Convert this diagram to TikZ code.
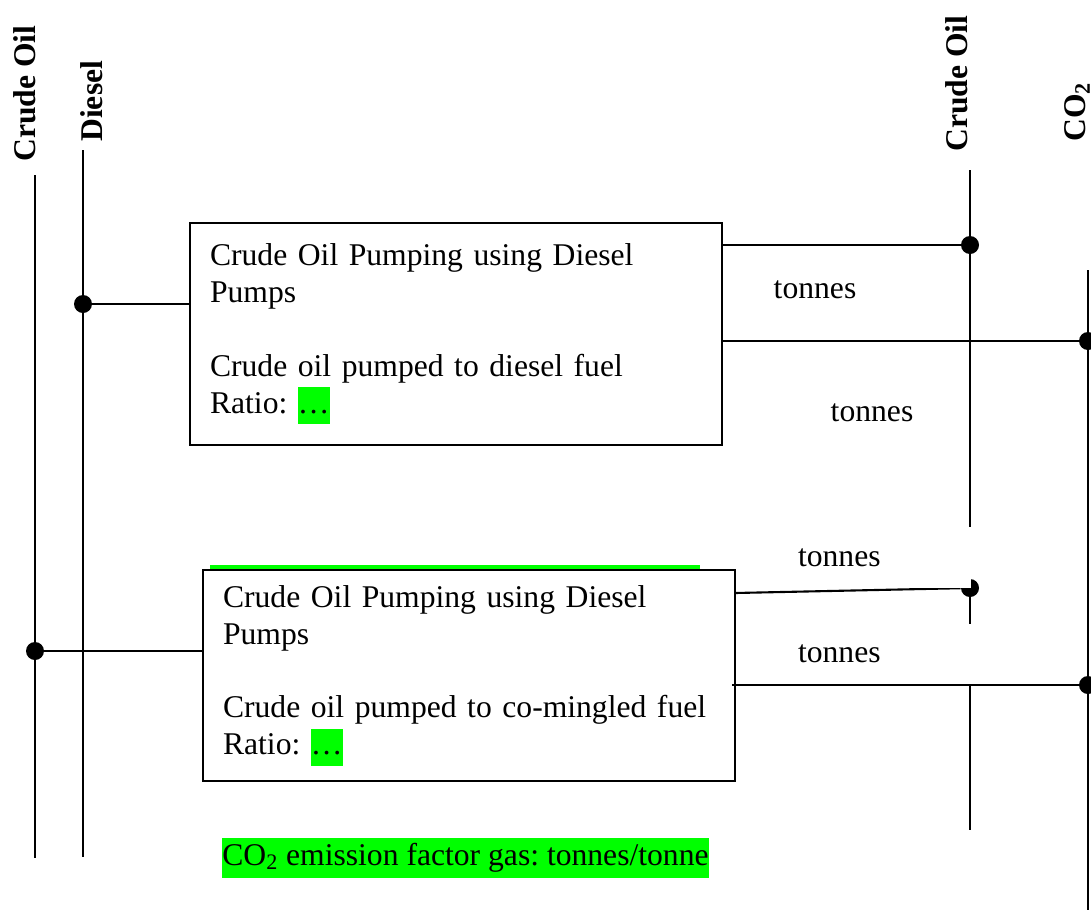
\documentclass[tikz,border=0pt]{standalone}
\usepackage{fontspec}
\setmainfont{Liberation Serif}
\usetikzlibrary{positioning}
\definecolor{hilite}{RGB}{0,255,0}
\frenchspacing

\tikzset{
  bus/.style={line width=1.2pt},
  joint/.style={circle, fill=black, inner sep=0pt, minimum size=0.36cm},
  buslabel/.style={rotate=90, anchor=west, inner sep=0pt, font=\fontsize{18}{21}\selectfont\bfseries},
  procbox/.style={draw, fill=white, line width=1pt, align=left, inner xsep=0.4cm, text width=9.84cm, minimum width=10.64cm, font=\fontsize{18}{21}\selectfont},
  qty/.style={fill=white, inner sep=0pt, font=\fontsize{18}{21}\selectfont},
}
\newcommand{\ratioval}{{\setlength{\fboxsep}{0pt}\colorbox{hilite}{\strut\ldots}}}

\begin{document}
\begin{tikzpicture}[x=0.02cm, y=-0.02cm]
    \useasboundingbox (0,0) rectangle (1091,910);

    % bus labels
    \node(crudeL)[buslabel] at (25,162) {Crude Oil};
    \node(diesel)[buslabel] at (92,142) {Diesel};
    \node(crudeR)[buslabel] at (957,152) {Crude Oil};
    \node(co2)[buslabel] at (1077,142) {CO\textsubscript{2}};

    % bus ends
    \coordinate(crudeL top) at (35,175);
    \coordinate(crudeL bot) at (35,858);
    \coordinate(diesel top) at (83,150);
    \coordinate(diesel bot) at (83,857);
    \coordinate(crudeR top) at (970,170);
    \coordinate(crudeR bot) at (970,830);
    \coordinate(co2 top) at (1088,270);
    \coordinate(co2 bot) at (1088,910);

    \draw[bus] (crudeL top) -- (crudeL bot);
    \draw[bus] (diesel top) -- (diesel bot);
    \draw[bus] (crudeR top) -- (crudeR bot);
    \draw[bus] (co2 top) -- (co2 bot);

    % process boxes
    \node(pump1)[procbox, minimum height=4.44cm] at (456,334)
        {Crude Oil Pumping using Diesel\\Pumps\\[21pt]Crude oil pumped to diesel fuel\\Ratio: \ratioval};

    \fill[hilite] (210,565) rectangle (700,572);
    \node(pump2)[procbox, minimum height=4.22cm] at (469,675.5)
        {Crude Oil Pumping using Diesel\\Pumps\\[21pt]Crude oil pumped to co-mingled fuel\\Ratio: \ratioval};

    % joints
    \node(j1)[joint] at (83,304) {};
    \node(j2)[joint] at (970,245) {};
    \node(j3)[joint] at (1088,341) {};
    \node(j4)[joint] at (970,588) {};
    \node(j5)[joint] at (35,651) {};
    \node(j6)[joint] at (1088,685) {};

    \coordinate(p2out) at (735,593);
    \coordinate(p2co2) at (732,685);

    \draw[bus] (j1) -- (j1 -| pump1.west);
    \draw[bus] (j2 -| pump1.east) -- (j2);
    \draw[bus] (j3 -| pump1.east) -- (j3);
    \draw[bus] (j5) -- (j5 -| pump2.west);
    \draw[bus] (p2out) -- (j4);
    \draw[bus] (p2co2) -- (j6);

    % quantities
    \node(t1)[qty] at (815,290) {tonnes};
    \node(t2)[qty] at (872,413) {tonnes};
    \node(t3)[qty, inner xsep=0.36cm, text width=3.10cm, align=left, minimum height=1.22cm] at (875.5,557.5) {tonnes};
    \node(t4)[qty, inner xsep=0.36cm, text width=3.10cm, align=left, minimum height=1.2cm] at (875.5,653.5) {tonnes};

    \node(factor)[fill=hilite, anchor=west, inner xsep=0pt, inner ysep=1pt, font=\fontsize{18}{21}\selectfont] at (222,858)
        {\strut CO\textsubscript{2} emission factor gas: tonnes/tonne};

\end{tikzpicture}
\end{document}
